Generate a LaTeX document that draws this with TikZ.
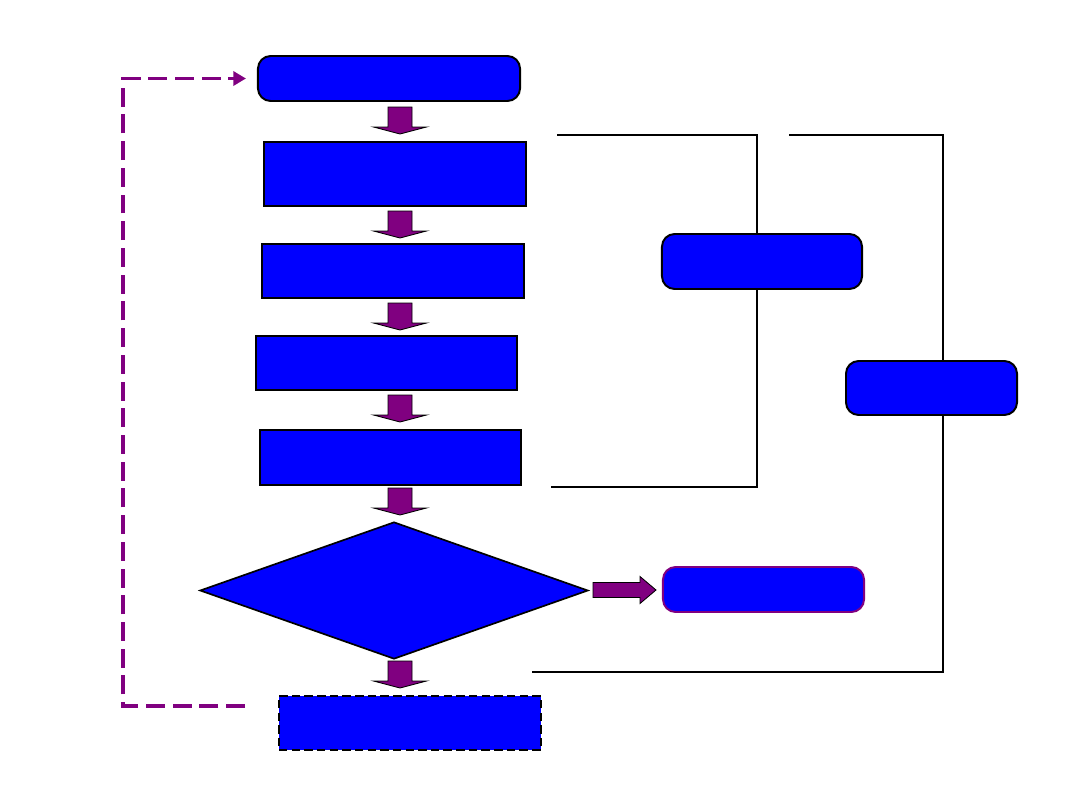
\documentclass[tikz,border=0pt]{standalone}
\usepackage{tikz}
\usetikzlibrary{arrows.meta,shapes.geometric}
\definecolor{fillblue}{RGB}{0,0,255}
\definecolor{arrpurple}{RGB}{128,0,128}
\tikzset{
  fbox/.style={draw=black, line width=1.4pt, fill=fillblue, inner sep=0pt},
  rbox/.style={fbox, rounded corners=9pt},
  dbox/.style={fbox, line width=1.8pt, dash pattern=on 6pt off 3pt},
  fdia/.style={fbox, diamond, line width=1.2pt},
  farr/.style={draw=black, line width=0.6pt, fill=arrpurple},
  bline/.style={line width=1.3pt},
  backarr/.style={arrpurple, line width=2.8pt, dash pattern=on 13.5pt off 5.5pt, -{Triangle[length=9pt,width=10pt]}},
  downarr/.pic={\path[farr] (-12,0) -- (-12,20) -- (-26.5,20) -- (0,27) -- (26.5,20) -- (12,20) -- (12,0) -- cycle;},
  rightarr/.pic={\path[farr] (0,-7.5) -- (47,-7.5) -- (47,-13.5) -- (63,0) -- (47,13.5) -- (47,7.5) -- (0,7.5) -- cycle;}
}

\begin{document}
\begin{tikzpicture}[x=0.025cm, y=-0.025cm]
\useasboundingbox (0,0) rectangle (1080,810);
% main column
\node[rbox, minimum width=6.55cm, minimum height=1.125cm] (start) at (389,78.5) {};
\node[fbox, minimum width=6.55cm, minimum height=1.6cm] (s1) at (395,174) {};
\node[fbox, minimum width=6.55cm, minimum height=1.35cm] (s2) at (393,271) {};
\node[fbox, minimum width=6.52cm, minimum height=1.35cm] (s3) at (386.5,363) {};
\node[fbox, minimum width=6.52cm, minimum height=1.375cm] (s4) at (390.5,457.5) {};
\node[fdia, minimum width=9.7cm, minimum height=3.425cm] (check) at (394,590.5) {};
\node[dbox, minimum width=6.55cm, minimum height=1.35cm] (retry) at (410,723) {};
% right side
\node[rbox, minimum width=5cm, minimum height=1.375cm] (grp) at (762,261.5) {};
\node[rbox, minimum width=4.275cm, minimum height=1.35cm] (grp2) at (931.5,388) {};
\node[rbox, draw=arrpurple, minimum width=5.025cm, minimum height=1.125cm] (done) at (763.5,589.5) {};

% block arrows
\pic at (400,107) {downarr};
\pic at (400,211) {downarr};
\pic at (400,303) {downarr};
\pic at (400,395) {downarr};
\pic at (400,488) {downarr};
\pic at (400,661) {downarr};
\pic at (593,590) {rightarr};

% brackets
\coordinate (t1) at (557,135);
\coordinate (b1) at (551,487);
\coordinate (t2) at (789,135);
\coordinate (b2) at (532,672);
\draw[bline] (t1) -| ([xshift=-0.125cm]grp.north);
\draw[bline] ([xshift=-0.125cm]grp.south) |- (b1);
\draw[bline] (t2) -| ([xshift=0.29cm]grp2.north);
\draw[bline] ([xshift=0.29cm]grp2.south) |- (b2);

% loop back
\coordinate (lb) at (245,706);
\coordinate (lc) at (123,706);
\draw[backarr, shorten >=0.275cm] (lb) -- (lc) |- (start.west);
\end{tikzpicture}
\end{document}
